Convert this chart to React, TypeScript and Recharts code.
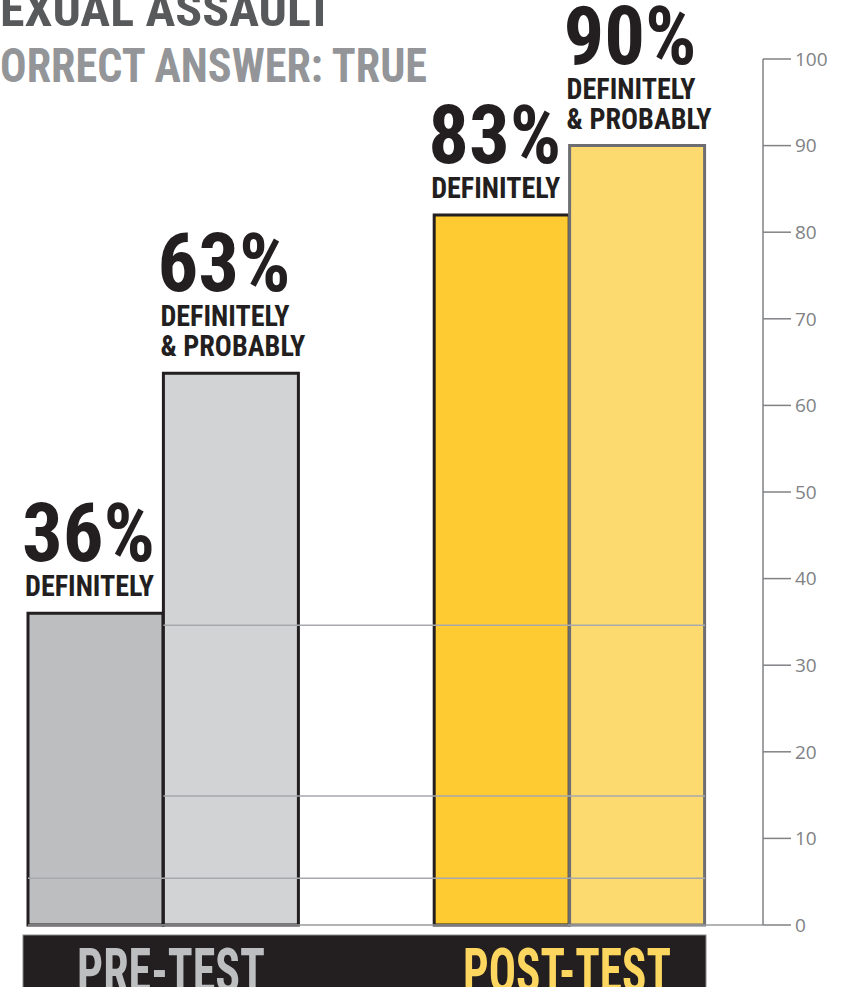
import React from "react";
import {
  Bar,
  BarChart,
  Cell,
  LabelList,
  ReferenceLine,
  XAxis,
  YAxis,
} from "recharts";

const categories = ["pre-definitely", "pre-both", "gap", "post-definitely", "post-both"];
const barValues = [36, 63.7, null, 82, 90];
const pctLabels = ["36%", "63%", "", "83%", "90%"];
const descLabels = [
  ["DEFINITELY"],
  ["DEFINITELY", "& PROBABLY"],
  [],
  ["DEFINITELY"],
  ["DEFINITELY", "& PROBABLY"],
];
const barFills = ["#bcbec0", "#d1d3d4", "none", "#ffcb32", "#fdda6f"];
const barStrokes = ["#231f20", "#231f20", "none", "#231f20", "#6d6e71"];
const yTicks = [0, 10, 20, 30, 40, 50, 60, 70, 80, 90, 100];
const groupLabels = ["PRE-TEST", "POST-TEST"];
const titleLines = ["EXUAL ASSAULT", "ORRECT ANSWER: TRUE"];
// faint guide lines that cross the bars: [from slot, to slot, value]
const guideLines = [
  [1, 5, 34.6],
  [1, 5, 14.9],
  [0, 5, 5.4],
];

const rows = categories.map((name, i) => ({ slot: i, name, value: barValues[i] }));

const W = 846;
const H = 987;
const LEFT = 28;
const Y_AXIS_W = 83;
const X_PAD_RIGHT = 58;
const BAND = (W - Y_AXIS_W - X_PAD_RIGHT - LEFT) / categories.length;
const FONT = "'Liberation Sans Narrow', 'Roboto Condensed', Roboto, sans-serif";
const textWidth: Record<string, number> = {
  DEFINITELY: 129,
  "& PROBABLY": 145,
};

const renderLabel = (props: any) => {
  const i = Number(props.value);
  const x = Number(props.x);
  const y = Number(props.y);
  if (!pctLabels[i]) return null;
  const lines = descLabels[i];
  const lastBase = y - 17;
  const firstBase = lastBase - (lines.length - 1) * 30;
  return (
    <g>
      <text
        x={x - 6}
        y={firstBase - 35}
        fontFamily={FONT}
        fontWeight={700}
        fontSize={81}
        fill="#231f20"
        textLength={133}
        lengthAdjust="spacingAndGlyphs"
      >
        {pctLabels[i]}
      </text>
      {lines.map((t, k) => (
        <text
          key={t}
          x={x - 3}
          y={firstBase + k * 30}
          fontFamily={FONT}
          fontWeight={700}
          fontSize={29}
          fill="#231f20"
          textLength={textWidth[t] || 130}
          lengthAdjust="spacingAndGlyphs"
        >
          {t}
        </text>
      ))}
    </g>
  );
};

const guideShape = (from: number, to: number) => (p: any) => (
  <line
    x1={LEFT + from * BAND}
    x2={LEFT + to * BAND}
    y1={p.y1}
    y2={p.y2}
    stroke="#a7a9ac"
    strokeWidth={1.5}
  />
);

export default function App() {
  return (
    <div
      style={{
        position: "absolute",
        left: 0,
        top: 0,
        width: W,
        height: H,
        overflow: "hidden",
        background: "#fff",
      }}
    >
      <BarChart
        width={W}
        height={H}
        data={rows}
        margin={{ top: 59, right: 0, bottom: 60, left: LEFT }}
        barCategoryGap={0}
        barGap={0}
      >
        <XAxis
          dataKey="name"
          padding={{ left: 0, right: X_PAD_RIGHT }}
          tick={false}
          tickLine={false}
          height={2}
          axisLine={{ stroke: "#9a9b9d", strokeWidth: 1.5 }}
        />
        <YAxis
          orientation="right"
          width={Y_AXIS_W}
          domain={[0, 100]}
          ticks={yTicks}
          interval={0}
          tickSize={28}
          tickMargin={4}
          axisLine={{ stroke: "#808285", strokeWidth: 1.5 }}
          tickLine={{ stroke: "#808285", strokeWidth: 1.5 }}
          tick={{ fill: "#808285", fontSize: 19, fontFamily: "'Open Sans', sans-serif" }}
        />
        <Bar dataKey="value" isAnimationActive={false} strokeWidth={3}>
          {rows.map((r, i) => (
            <Cell key={r.name} fill={barFills[i]} stroke={barStrokes[i]} />
          ))}
          <LabelList dataKey="slot" content={renderLabel} />
        </Bar>
        {guideLines.map(([a, b, v]) => (
          <ReferenceLine key={v} y={v} zIndex={2000} shape={guideShape(a, b)} />
        ))}
      </BarChart>
      <svg
        width={W}
        height={H}
        style={{ position: "absolute", left: 0, top: 0, pointerEvents: "none" }}
      >
        <text
          x={0}
          y={26}
          fontFamily={FONT}
          fontWeight={700}
          fontSize={49}
          fill="#58595b"
          textLength={333}
          lengthAdjust="spacingAndGlyphs"
        >
          {titleLines[0]}
        </text>
        <text
          x={0}
          y={82}
          fontFamily={FONT}
          fontWeight={700}
          fontSize={49}
          fill="#939598"
          textLength={427}
          lengthAdjust="spacingAndGlyphs"
        >
          {titleLines[1]}
        </text>
        <rect x={23} y={935} width={683} height={60} fill="#231f20" stroke="#8a8a8a" strokeWidth={1} />
        <text
          x={77}
          y={992}
          fontFamily={FONT}
          fontWeight={700}
          fontSize={62}
          fill="#bcbec0"
          textLength={188}
          lengthAdjust="spacingAndGlyphs"
        >
          {groupLabels[0]}
        </text>
        <text
          x={463}
          y={992}
          fontFamily={FONT}
          fontWeight={700}
          fontSize={62}
          fill="#fdd65f"
          textLength={208}
          lengthAdjust="spacingAndGlyphs"
        >
          {groupLabels[1]}
        </text>
      </svg>
    </div>
  );
}
